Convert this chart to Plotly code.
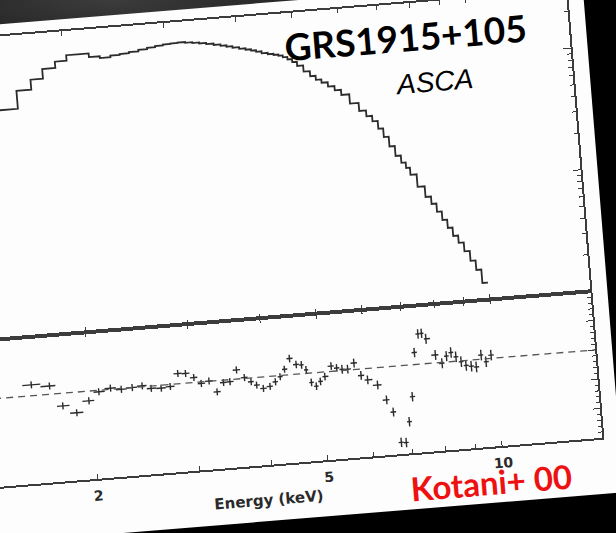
import numpy as np
import plotly.graph_objects as go

# ASCA GIS spectrum of GRS 1915+105 (Kotani et al. 2000)
# bin centres in keV
energy_keV = [1.587, 1.705, 1.786, 1.883, 1.983, 2.068, 2.168, 2.262, 2.363, 2.459,
              2.546, 2.649, 2.747, 2.842, 2.930, 3.024, 3.108, 3.207, 3.301, 3.394,
              3.483, 3.587, 3.693, 3.787, 3.867, 3.967, 4.076, 4.169, 4.254, 4.337,
              4.439, 4.550, 4.645, 4.725, 4.805, 4.895, 4.981, 5.077, 5.221, 5.334,
              5.447, 5.569, 5.718, 5.859, 6.006, 6.237, 6.432, 6.580, 6.725, 6.858,
              6.987, 7.128, 7.286, 7.432, 7.538, 7.659, 7.912, 8.102, 8.261, 8.418,
              8.575, 8.740, 8.902, 9.087, 9.266, 9.476, 9.643, 9.858]

# counts s^-1 keV^-1
count_rate = [7.46, 10.5, 12.65, 15.2, 17.1, 19.0, 19.0, 17.7, 17.1, 17.6,
              17.9, 18.3, 18.8, 19.3, 19.7, 20.05, 20.2, 20.3, 20.0, 19.7,
              19.35, 18.9, 18.4, 17.9, 17.45, 16.95, 16.45, 16.0, 15.6, 15.15,
              14.6, 14.2, 13.9, 13.6, 13.1, 12.5, 11.8, 10.9, 9.7, 8.8,
              8.15, 7.65, 7.05, 6.5, 5.9, 4.95, 4.25, 3.8, 3.42, 2.95,
              2.5, 2.08, 1.72, 1.50, 1.35, 1.18, 0.93, 0.76, 0.66, 0.565,
              0.48, 0.41, 0.35, 0.305, 0.257, 0.213, 0.178, 0.138]

# data / model ratio and its 1-sigma error
ratio = [1.037, 1.028, 0.957, 0.930, 0.967, 0.995, 1.004, 0.997, 1.000, 1.003,
         0.992, 0.990, 0.993, 1.035, 1.033, 1.017, 0.995, 1.001, 0.962, 0.992,
         0.993, 1.031, 1.003, 0.987, 0.974, 0.961, 0.966, 0.980, 0.996, 1.020,
         1.055, 1.033, 1.030, 1.012, 0.968, 0.954, 0.969, 0.984, 1.018, 1.010,
         1.004, 1.003, 1.022, 0.978, 0.961, 0.941, 0.888, 0.845, 0.740, 0.738,
         0.808, 0.892, 1.041, 1.103, 1.104, 1.084, 1.027, 0.997, 1.020, 1.031,
         1.015, 0.997, 0.983, 0.979, 0.975, 1.014, 0.990, 1.011]

ratio_err = [0.012, 0.012, 0.012, 0.012, 0.012, 0.012, 0.012, 0.012, 0.012, 0.012,
             0.012, 0.012, 0.012, 0.012, 0.012, 0.012, 0.012, 0.012, 0.012, 0.012,
             0.012, 0.012, 0.012, 0.012, 0.012, 0.012, 0.012, 0.012, 0.012, 0.012,
             0.013, 0.013, 0.013, 0.013, 0.013, 0.013, 0.013, 0.013, 0.013, 0.013,
             0.015, 0.015, 0.015, 0.015, 0.015, 0.015, 0.015, 0.015, 0.016, 0.016,
             0.016, 0.016, 0.016, 0.016, 0.016, 0.017, 0.017, 0.017, 0.017, 0.018,
             0.018, 0.018, 0.018, 0.018, 0.018, 0.018, 0.018, 0.018]

energy_ticks = [2, 5, 10]
energy_ticktext = ["2", "5", "10"]
energy_minor = [3, 4, 6, 7, 8, 9]
rate_ticks = [0.1, 1, 10]
rate_minor = [0.2, 0.3, 0.4, 0.5, 0.6, 0.7, 0.8, 0.9,
              2, 3, 4, 5, 6, 7, 8, 9, 20, 30]

E_MIN, E_MAX = 1.301, 14.9
RATE_MIN, RATE_MAX = 0.1, 30.0
RATIO_MIN, RATIO_MAX = 0.7, 1.2

# bin edges from the (log-spaced) bin centres
logc = np.log10(energy_keV)
mid = 0.5 * (logc[1:] + logc[:-1])
log_edges = np.concatenate([[2 * logc[0] - mid[0]], mid, [2 * logc[-1] - mid[-1]]])
edges = 10 ** log_edges
centres = np.array(energy_keV)
err_hi = edges[1:] - centres
err_lo = centres - edges[:-1]

INK = "#2b2b2b"
AXIS = "#3c3c3c"
W, H = 642, 517
ML, MR, MT, MB = 10, 17, 12, 56
split = 147 / (H - MT - MB)

fig = go.Figure()

# upper panel: count-rate histogram
fig.add_trace(go.Scatter(
    x=edges, y=list(count_rate) + [count_rate[-1]],
    xaxis="x2", yaxis="y2", mode="lines", line_shape="hv",
    line=dict(color=INK, width=1.8), showlegend=False, hoverinfo="skip"))

# lower panel: ratio with error crosses
fig.add_trace(go.Scatter(
    x=centres, y=ratio, xaxis="x", yaxis="y", mode="markers",
    marker=dict(size=1, color=INK, opacity=0),
    error_x=dict(type="data", symmetric=False, array=err_hi, arrayminus=err_lo,
                 width=0, thickness=1.4, color=INK),
    error_y=dict(type="data", array=ratio_err, width=0, thickness=1.4, color=INK),
    showlegend=False, hoverinfo="skip"))

fig.add_hline(y=1.0, xref="x", yref="y",
              line=dict(color="#555555", width=1.3, dash="7px,5px"))

tick_font = dict(family="DejaVu Sans", size=14, color="#2a2a2a", weight="bold")
xr = [np.log10(E_MIN), np.log10(E_MAX)]

common_x = dict(type="log", range=xr, showline=True, linecolor=AXIS, linewidth=2,
                mirror="ticks", ticks="inside", ticklen=5, tickwidth=1.3,
                tickcolor=AXIS, tickvals=energy_ticks, ticktext=energy_ticktext,
                minor=dict(tickvals=energy_minor, ticks="inside", ticklen=4.5,
                           tickwidth=1.3, tickcolor=AXIS),
                showgrid=False, zeroline=False)
long_x = dict(type="log", range=xr, showline=False, mirror="ticks",
              ticks="inside", ticklen=8, tickwidth=1.3, tickcolor=AXIS,
              tickvals=[10], showticklabels=False, showgrid=False, zeroline=False)

fig.update_layout(
    width=W, height=H, autosize=False,
    margin=dict(l=ML, r=MR, t=MT, b=MB, pad=0),
    paper_bgcolor="#fdfdfd", plot_bgcolor="#fdfdfd",
    xaxis=dict(common_x, anchor="y", tickfont=tick_font, ticklabelstandoff=3),
    xaxis2=dict(common_x, anchor="y2", showticklabels=False),
    xaxis3=dict(long_x, anchor="y", overlaying="x"),
    xaxis4=dict(long_x, anchor="y2", overlaying="x2"),
    yaxis=dict(domain=[0, split], anchor="x", range=[RATIO_MIN, RATIO_MAX],
               showline=True, linecolor=AXIS, linewidth=2, mirror="ticks",
               ticks="inside", tick0=0.7, dtick=0.1, ticklen=7, tickwidth=1.3,
               tickcolor=AXIS, showticklabels=False,
               minor=dict(dtick=0.02, ticks="inside", ticklen=3.5, tickwidth=1.1,
                          tickcolor=AXIS),
               showgrid=False, zeroline=False),
    yaxis2=dict(domain=[split, 1], anchor="x2", type="log",
                range=[np.log10(RATE_MIN), np.log10(RATE_MAX)],
                showline=True, linecolor=AXIS, linewidth=2, mirror="ticks",
                ticks="inside", tickvals=rate_ticks, ticklen=8, tickwidth=1.3,
                tickcolor=AXIS, showticklabels=False,
                minor=dict(tickvals=rate_minor, ticks="inside", ticklen=4,
                           tickwidth=1.1, tickcolor=AXIS),
                showgrid=False, zeroline=False),
)

label = dict(xref="paper", yref="paper", showarrow=False,
             xanchor="center", yanchor="middle")
fig.add_annotation(label, text="Energy (keV)", x=0.452, y=-0.079,
                   font=dict(family="DejaVu Sans", size=15, color="#2a2a2a",
                             weight="bold"))
fig.add_annotation(label, text="GRS1915+105", x=0.734, y=0.925,
                   font=dict(family="Lato", size=37, color="#000000", weight="bold"))
fig.add_annotation(label, text="<i>ASCA</i>", x=0.7735, y=0.820,
                   font=dict(family="Liberation Sans", size=28, color="#000000",
                             style="italic"))
fig.add_annotation(label, text="Kotani+ 00", x=0.815, y=-0.078,
                   font=dict(family="Lato", size=33, color="#ee1111", weight="bold"))

# the printed page sits tilted on a dark background
TILT_DEG = 4.65
PAGE_LEFT, PAGE_TOP = -57.6, 29.0
BACKDROP = ("radial-gradient(ellipse 330px 70px at 110px 0px, "
            "#3c3c3c 0%, #262626 55%, #000 100%), #000")
post = (
    "var gd=document.getElementById('{plot_id}');"
    "document.documentElement.style.background='#000';"
    "document.body.style.margin='0';"
    "document.body.style.minHeight='100vh';"
    "document.body.style.background='" + BACKDROP + "';"
    "document.body.style.overflow='hidden';"
    "gd.style.position='absolute';"
    "gd.style.left='" + str(PAGE_LEFT) + "px';"
    "gd.style.top='" + str(PAGE_TOP) + "px';"
    "gd.style.transformOrigin='0 0';"
    "gd.style.transform='rotate(-" + str(TILT_DEG) + "deg)';"
)

fig.write_html("out.html", config={"displayModeBar": False}, post_script=post)
